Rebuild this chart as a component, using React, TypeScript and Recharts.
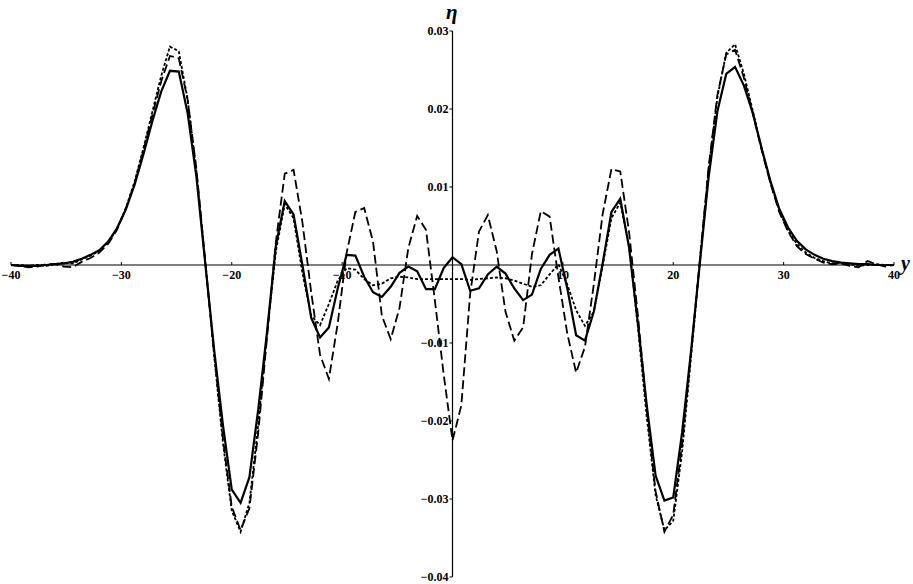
import React from 'react';
import { LineChart, Line, XAxis, YAxis, ReferenceLine } from 'recharts';

const xs = [
  -40, -39.2, -38.4, -37.6, -36.8, -36, -35.2, -34.4, -33.6, -32.8,
  -32, -31.2, -30.4, -29.6, -28.8, -28, -27.2, -26.4, -25.6, -24.8,
  -24, -23.2, -22.4, -21.6, -20.8, -20, -19.2, -18.4, -17.6, -16.8,
  -16, -15.2, -14.4, -13.6, -12.8, -12, -11.2, -10.4, -9.6, -8.8,
  -8, -7.2, -6.4, -5.6, -4.8, -4, -3.2, -2.4, -1.6, -0.8,
  0,
  0.8, 1.6, 2.4, 3.2, 4, 4.8, 5.6, 6.4, 7.2, 8,
  8.8, 9.6, 10.4, 11.2, 12, 12.8, 13.6, 14.4, 15.2, 16,
  16.8, 17.6, 18.4, 19.2, 20, 20.8, 21.6, 22.4, 23.2, 24,
  24.8, 25.6, 26.4, 27.2, 28, 28.8, 29.6, 30.4, 31.2, 32,
  32.8, 33.6, 34.4, 35.2, 36, 36.8, 37.6, 38.4, 39.2, 40,
];

// solid curve
const solidSeries = [
  0, -0.0001, -0.0001, -0.0001, 0, 0.0001, 0.0002, 0.0004, 0.0008, 0.0013,
  0.0019, 0.003, 0.0047, 0.0071, 0.0103, 0.0142, 0.0184, 0.0222, 0.0249, 0.0248,
  0.0195, 0.0113, 0.0002, -0.0108, -0.0205, -0.0288, -0.0305, -0.0272, -0.0185, -0.0085,
  0.0025, 0.0082, 0.0065, 0.0, -0.0068, -0.0093, -0.008, -0.003, 0.0013, 0.0012,
  -0.0015, -0.0035, -0.0041, -0.0028, -0.001, -0.0002, -0.0008, -0.0031, -0.0031, -0.0004,
  0.001,
  0.0001, -0.0033, -0.003, -0.0012, -0.0002, -0.0011, -0.003, -0.0045, -0.0038, -0.0005,
  0.0013, 0.0021, -0.003, -0.009, -0.0097, -0.006, 0.0002, 0.0068, 0.0085, 0.0022,
  -0.0075, -0.018, -0.027, -0.0302, -0.0298, -0.0215, -0.0112, 0.0001, 0.0112, 0.0197,
  0.0245, 0.0254, 0.023, 0.0195, 0.015, 0.0108, 0.0072, 0.0048, 0.0031, 0.002,
  0.0013, 0.0008, 0.0005, 0.0003, 0.0002, 0.0001, 0.0001, 0, 0, 0,
];

// long-dashed curve
const dashedSeries = [
  0, -0.0001, -0.0003, -0.0002, 0.0001, 0.0001, -0.0002, -0.0003, 0.0004, 0.0009,
  0.0016, 0.0027, 0.0045, 0.0072, 0.0105, 0.0147, 0.0192, 0.0235, 0.0268, 0.0265,
  0.0212, 0.0123, 0.0005, -0.0113, -0.0222, -0.031, -0.034, -0.0312, -0.0215, -0.0092,
  0.003, 0.0117, 0.0122, 0.0055, -0.0035, -0.0115, -0.0146, -0.0075, 0.0015, 0.0068,
  0.0073, 0.003, -0.0065, -0.0095, -0.0055, 0.0022, 0.0063, 0.0045, -0.0045, -0.014,
  -0.0225,
  -0.018, -0.0037, 0.0043, 0.0064, 0.0018, -0.006, -0.0097, -0.008, 0.0014, 0.0069,
  0.0062, -0.0016, -0.0088, -0.0138, -0.0105, -0.0025, 0.0065, 0.0123, 0.012, 0.0042,
  -0.0065, -0.0185, -0.029, -0.0342, -0.032, -0.023, -0.0115, 0.0005, 0.0125, 0.0218,
  0.027, 0.0276, 0.024, 0.0195, 0.0148, 0.0105, 0.0068, 0.0043, 0.0024, 0.0014,
  0.0008, 0.0003, 0.0001, 0.0002, -0.0001, -0.0003, 0.0005, 0.0001, -0.0002, 0,
];

// short-dashed (dotted) curve
const dottedSeries = [
  0, 0, -0.0001, 0, -0.0001, 0.0001, 0.0003, 0.0002, 0.0007, 0.0012,
  0.0018, 0.0029, 0.0046, 0.0073, 0.0107, 0.015, 0.0196, 0.0242, 0.028, 0.0274,
  0.0213, 0.012, 0.0003, -0.0115, -0.0228, -0.0315, -0.0342, -0.0305, -0.0205, -0.0088,
  0.0018, 0.0078, 0.006, -0.001, -0.0065, -0.0077, -0.005, -0.002, -0.0004, -0.0006,
  -0.0018, -0.0026, -0.0024, -0.0017, -0.0015, -0.0016, -0.0018, -0.0018, -0.0018, -0.0018,
  -0.0018,
  -0.0018, -0.0019, -0.0018, -0.0017, -0.0016, -0.0017, -0.002, -0.0024, -0.0028, -0.0026,
  -0.0012, 0.0001, -0.0025, -0.0058, -0.0078, -0.006, -0.0001, 0.006, 0.008, 0.0025,
  -0.008, -0.0195, -0.0295, -0.034, -0.0328, -0.024, -0.012, 0.0003, 0.0122, 0.0215,
  0.0272, 0.0283, 0.0245, 0.0198, 0.015, 0.0106, 0.007, 0.0044, 0.0027, 0.0016,
  0.0009, 0.0005, 0.0002, 0.0003, 0.0001, -0.0001, 0, 0.0001, 0, 0,
];

const xTicks = [-40, -30, -20, -10, 10, 20, 30, 40];
const yTicks = [0.03, 0.02, 0.01, -0.01, -0.02, -0.03, -0.04];
const xLabel = 'y';
const yLabel = 'η';

const W = 913;
const H = 584;
const M = { top: 31, right: 19, bottom: 6, left: 10 };
const AXIS_SIZE = 1;
const X_MIN = -40, X_MAX = 40, Y_MIN = -0.04, Y_MAX = 0.03;
const PLOT_LEFT = M.left + AXIS_SIZE;
const PLOT_TOP = M.top;
const PLOT_W = W - PLOT_LEFT - M.right;
const PLOT_H = H - M.top - M.bottom - AXIS_SIZE;
const X0 = PLOT_LEFT + (PLOT_W * (0 - X_MIN)) / (X_MAX - X_MIN);
const Y0 = PLOT_TOP + (PLOT_H * (Y_MAX - 0)) / (Y_MAX - Y_MIN);

const data = xs.map((x, i) => ({ x, s: solidSeries[i], d: dashedSeries[i], t: dottedSeries[i] }));

const FONT = '"Liberation Serif", "Times New Roman", serif';

const fmtX = (v: number) => (v < 0 ? '\u2212' + Math.abs(v) : String(v));
const fmtY = (v: number) => (v < 0 ? '\u2212' + Math.abs(v).toFixed(2) : v.toFixed(2));

const renderXTick = (props: any) => {
  const { x, payload } = props;
  return (
    <g key={'xt' + payload.value}>
      <line x1={x} x2={x} y1={Y0} y2={Y0 - 3} stroke="#000" strokeWidth={1} />
      <text x={x} y={Y0 + 14} textAnchor="middle" fontFamily={FONT} fontWeight="bold" fontSize={12} fill="#000">
        {fmtX(payload.value)}
      </text>
    </g>
  );
};

const renderYTick = (props: any) => {
  const { y, payload } = props;
  return (
    <g key={'yt' + payload.value}>
      <line x1={X0} x2={X0 - 3} y1={y} y2={y} stroke="#000" strokeWidth={1} />
      <text x={X0 - 4} y={y + 4} textAnchor="end" fontFamily={FONT} fontWeight="bold" fontSize={12} fill="#000">
        {fmtY(payload.value)}
      </text>
    </g>
  );
};

export default function App() {
  return (
    <div style={{ position: 'absolute', left: 0, top: 0, width: W, height: H, background: '#fff' }}>
      <LineChart width={W} height={H} data={data} margin={M}>
        <XAxis
          dataKey="x"
          type="number"
          domain={[X_MIN, X_MAX]}
          ticks={xTicks}
          interval={0}
          height={AXIS_SIZE}
          axisLine={false}
          tickLine={false}
          tick={renderXTick}
          allowDataOverflow
        />
        <YAxis
          type="number"
          domain={[Y_MIN, Y_MAX]}
          ticks={yTicks}
          interval={0}
          width={AXIS_SIZE}
          axisLine={false}
          tickLine={false}
          tick={renderYTick}
          allowDataOverflow
        />
        <ReferenceLine y={0} stroke="#000" strokeWidth={1.2} />
        <ReferenceLine x={0} stroke="#000" strokeWidth={1.2} />
        <Line dataKey="t" stroke="#000" strokeWidth={1.8} strokeDasharray="3 2" dot={false} isAnimationActive={false} />
        <Line dataKey="d" stroke="#000" strokeWidth={1.8} strokeDasharray="9 4" dot={false} isAnimationActive={false} />
        <Line dataKey="s" stroke="#000" strokeWidth={2.2} dot={false} isAnimationActive={false} />
      </LineChart>
      <svg width={W} height={H} style={{ position: 'absolute', left: 0, top: 0, pointerEvents: 'none' }}>
        <text x={446} y={19} fontFamily={FONT} fontWeight="bold" fontStyle="italic" fontSize={21} fill="#000">
          {yLabel}
        </text>
        <text x={901} y={270} fontFamily={FONT} fontWeight="bold" fontStyle="italic" fontSize={20} fill="#000">
          {xLabel}
        </text>
      </svg>
    </div>
  );
}
